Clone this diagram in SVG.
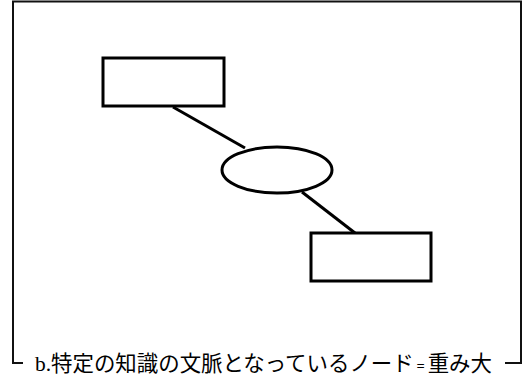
<svg xmlns="http://www.w3.org/2000/svg" width="526" height="378" viewBox="0 0 526 378">
<style>
.shape{fill:#fff;stroke:#000;stroke-width:3}
.edge{stroke:#000;stroke-width:3;fill:none}
.frame{fill:none;stroke:#111;stroke-width:2}
.cap{font-family:"Noto Sans CJK JP","Noto Sans",sans-serif;font-size:21.5px;fill:#000}
.lat{font-family:"Liberation Serif",serif}
</style>
<rect width="526" height="378" fill="#fff"/>
<path class="frame" d="M23,363 H13 V1.5 H521 V363 H505"/>
<g id="connectors">
<line class="edge" x1="173" y1="107" x2="245" y2="148"/>
<line class="edge" x1="302" y1="192" x2="355" y2="233"/>
</g>
<g id="node-top"><rect class="shape" x="103" y="58" width="121" height="48"/></g>
<g id="node-center"><ellipse class="shape" cx="277" cy="170" rx="55" ry="23"/></g>
<g id="node-bottom"><rect class="shape" x="311" y="233" width="120" height="48"/></g>
<g id="caption"><text class="cap" x="35" y="371" textLength="457" lengthAdjust="spacingAndGlyphs"><tspan class="lat">b.</tspan>特定の知識の文脈となっているノード<tspan font-size="14"> = </tspan>重み大</text></g>
</svg>
